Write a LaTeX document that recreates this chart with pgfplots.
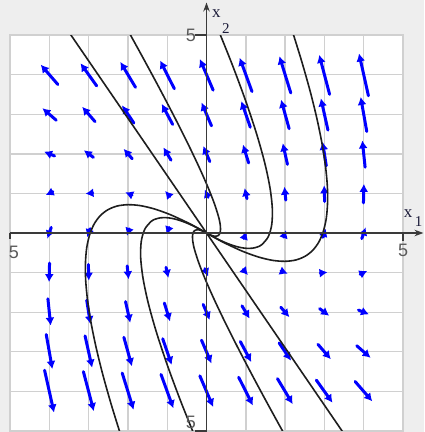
\documentclass[border=0pt]{standalone}
\usepackage{pgfplots}
\pgfplotsset{compat=1.18}
\usepackage{pgfplotstable}
\usepackage{fontspec}
\setmainfont{Liberation Sans}
\newfontfamily\labelserif{Liberation Serif}
\usetikzlibrary{arrows.meta}

\definecolor{bggray}{HTML}{EEEEEE}
\definecolor{gridgray}{HTML}{D0D0D0}
\definecolor{axisdark}{HTML}{3A3A3A}
\definecolor{fieldblue}{HTML}{0000FF}
\definecolor{trajblack}{HTML}{1E1E1E}
\definecolor{ticktext}{HTML}{5A5A5A}
\definecolor{labeldark}{HTML}{1C1C3A}

% direction field x' = A x sampled on the integer grid (u, v before scaling)
\pgfplotstableread{
x y u v
-4 -4 9.8 -43.6
-4 -3 6.35 -35.6
-4 -2 2.9 -27.6
-4 -1 -0.55 -19.6
-4 0 -4 -11.6
-4 1 -7.45 -3.6
-4 2 -10.9 4.4
-4 3 -14.35 12.4
-4 4 -17.8 20.4
-3 -4 10.8 -40.7
-3 -3 7.35 -32.7
-3 -2 3.9 -24.7
-3 -1 0.45 -16.7
-3 0 -3 -8.7
-3 1 -6.45 -0.7
-3 2 -9.9 7.3
-3 3 -13.35 15.3
-3 4 -16.8 23.3
-2 -4 11.8 -37.8
-2 -3 8.35 -29.8
-2 -2 4.9 -21.8
-2 -1 1.45 -13.8
-2 0 -2 -5.8
-2 1 -5.45 2.2
-2 2 -8.9 10.2
-2 3 -12.35 18.2
-2 4 -15.8 26.2
-1 -4 12.8 -34.9
-1 -3 9.35 -26.9
-1 -2 5.9 -18.9
-1 -1 2.45 -10.9
-1 0 -1 -2.9
-1 1 -4.45 5.1
-1 2 -7.9 13.1
-1 3 -11.35 21.1
-1 4 -14.8 29.1
0 -4 13.8 -32
0 -3 10.35 -24
0 -2 6.9 -16
0 -1 3.45 -8
0 1 -3.45 8
0 2 -6.9 16
0 3 -10.35 24
0 4 -13.8 32
1 -4 14.8 -29.1
1 -3 11.35 -21.1
1 -2 7.9 -13.1
1 -1 4.45 -5.1
1 0 1 2.9
1 1 -2.45 10.9
1 2 -5.9 18.9
1 3 -9.35 26.9
1 4 -12.8 34.9
2 -4 15.8 -26.2
2 -3 12.35 -18.2
2 -2 8.9 -10.2
2 -1 5.45 -2.2
2 0 2 5.8
2 1 -1.45 13.8
2 2 -4.9 21.8
2 3 -8.35 29.8
2 4 -11.8 37.8
3 -4 16.8 -23.3
3 -3 13.35 -15.3
3 -2 9.9 -7.3
3 -1 6.45 0.7
3 0 3 8.7
3 1 -0.45 16.7
3 2 -3.9 24.7
3 3 -7.35 32.7
3 4 -10.8 40.7
4 -4 17.8 -20.4
4 -3 14.35 -12.4
4 -2 10.9 -4.4
4 -1 7.45 3.6
4 0 4 11.6
4 1 0.55 19.6
4 2 -2.9 27.6
4 3 -6.35 35.6
4 4 -9.8 43.6
}\fieldtable

\begin{document}
\begin{tikzpicture}
\path[fill=bggray, use as bounding box] (-10pt,-1pt) rectangle (414pt,431pt);
\begin{axis}[
  at={(0pt,0pt)}, anchor=south west,
  scale only axis, width=393pt, height=396pt,
  xmin=-5, xmax=5, ymin=-5, ymax=5,
  xtick={-5,...,5}, ytick={-5,...,5},
  xticklabels={}, yticklabels={},
  major tick length=0pt,
  grid=major,
  major grid style={gridgray, line width=1.4pt},
  axis line style={gridgray, line width=1.4pt},
  axis background/.style={fill=white},
  clip mode=individual,
  traj/.style={trajblack, line width=1.6pt, smooth, mark=none},
]
% direction field, each arrow centred on its grid point
\addplot[fieldblue, line width=3pt, line cap=round,
  -{Latex[length=8pt,width=9pt]},
  quiver={u=\thisrow{u}, v=\thisrow{v}, scale arrows=0.0245}]
  table[x expr=\thisrow{x}-0.01225*\thisrow{u},
        y expr=\thisrow{y}-0.01225*\thisrow{v}] {\fieldtable};

% straight-line solution along the fast eigenvector
\addplot[traj] coordinates {(-3.65,5.29) (0,0) (3.65,-5.29)};

% solutions leaving the origin to the lower right and turning upward
\addplot[traj] coordinates {(0,0) (0.093,-0.048) (0.172,-0.075) (0.237,-0.083) (0.288,-0.070) (0.325,-0.036) (0.348,0.017) (0.357,0.091) (0.352,0.186) (0.333,0.300) (0.300,0.435) (0.192,0.766) (0.028,1.177) (-0.192,1.670) (-0.468,2.245) (-0.8,2.90) (-1.188,3.637) (-1.632,4.454) (-2.132,5.353)};
\addplot[traj] coordinates {(0,0) (0.241,-0.131) (0.463,-0.236) (0.666,-0.313) (0.851,-0.364) (1.017,-0.387) (1.165,-0.384) (1.294,-0.353) (1.404,-0.296) (1.569,-0.099) (1.659,0.205) (1.675,0.617) (1.616,1.138) (1.483,1.766) (1.275,2.503) (0.993,3.347) (0.636,4.300) (0.205,5.360)};
\addplot[traj] coordinates {(0,0) (0.245,-0.138) (0.480,-0.261) (0.919,-0.462) (1.318,-0.605) (1.676,-0.690) (1.993,-0.715) (2.270,-0.682) (2.507,-0.589) (2.702,-0.438) (2.858,-0.229) (2.972,0.040) (3.047,0.367) (3.080,0.754) (3.074,1.199) (3.026,1.702) (2.938,2.265) (2.810,2.886) (2.641,3.567) (2.431,4.306) (2.215,5.0) (2.126,5.27)};

% their mirror images through the origin
\addplot[traj] coordinates {(0,0) (-0.093,0.048) (-0.172,0.075) (-0.237,0.083) (-0.288,0.070) (-0.325,0.036) (-0.348,-0.017) (-0.357,-0.091) (-0.352,-0.186) (-0.333,-0.300) (-0.300,-0.435) (-0.192,-0.766) (-0.028,-1.177) (0.192,-1.670) (0.468,-2.245) (0.8,-2.90) (1.188,-3.637) (1.632,-4.454) (2.132,-5.353)};
\addplot[traj] coordinates {(0,0) (-0.241,0.131) (-0.463,0.236) (-0.666,0.313) (-0.851,0.364) (-1.017,0.387) (-1.165,0.384) (-1.294,0.353) (-1.404,0.296) (-1.569,0.099) (-1.659,-0.205) (-1.675,-0.617) (-1.616,-1.138) (-1.483,-1.766) (-1.275,-2.503) (-0.993,-3.347) (-0.636,-4.300) (-0.205,-5.360)};
\addplot[traj] coordinates {(0,0) (-0.245,0.138) (-0.480,0.261) (-0.919,0.462) (-1.318,0.605) (-1.676,0.690) (-1.993,0.715) (-2.270,0.682) (-2.507,0.589) (-2.702,0.438) (-2.858,0.229) (-2.972,-0.040) (-3.047,-0.367) (-3.080,-0.754) (-3.074,-1.199) (-3.026,-1.702) (-2.938,-2.265) (-2.810,-2.886) (-2.641,-3.567) (-2.431,-4.306) (-2.215,-5.0) (-2.126,-5.27)};

% coordinate axes through the origin
\draw[axisdark, line width=1.3pt, -{Stealth[length=9pt,width=6.5pt]}]
  (axis cs:0,-5.1) -- (axis cs:0,5.82);
\draw[axisdark, line width=1.3pt, -{Stealth[length=9pt,width=6.5pt]}]
  (axis cs:-5,0) -- (axis cs:5.52,0);
\draw[axisdark, line width=1.2pt] (axis cs:-0.3,5) -- (axis cs:0,5);
\draw[axisdark, line width=1.2pt] (axis cs:-0.3,-5) -- (axis cs:0,-5);
\draw[axisdark, line width=1.2pt] (axis cs:5,0) -- (axis cs:5,-0.2);
\draw[axisdark, line width=1.2pt] (axis cs:-5,0) -- (axis cs:-5,-0.16);

% tick labels
\begin{scope}[every node/.style={inner sep=0pt, text=ticktext, font=\fontsize{18}{18}\selectfont}]
\node at (axis cs:5,-0.45) {5};
\node at (axis cs:-4.9,-0.48) {5};
\node at (axis cs:-0.40,5.0) {5};
\node at (axis cs:-0.40,-4.78) {5};
\end{scope}

% axis names
\begin{scope}[every node/.style={inner sep=0pt, anchor=base west, text=labeldark}]
\node[font=\labelserif\fontsize{17}{17}\selectfont] at (axis cs:0.135,5.43) {x};
\node[font=\labelserif\fontsize{15}{15}\selectfont] at (axis cs:0.39,5.05) {2};
\node[font=\labelserif\fontsize{17}{17}\selectfont] at (axis cs:5.02,0.40) {x};
\node[font=\labelserif\fontsize{15}{15}\selectfont] at (axis cs:5.3,0.16) {1};
\end{scope}
\end{axis}
\end{tikzpicture}
\end{document}
